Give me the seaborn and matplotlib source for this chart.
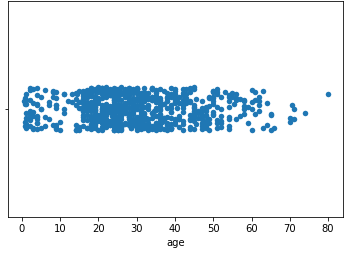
import numpy as np
import pandas as pd
import matplotlib
matplotlib.use("Agg")
import matplotlib.pyplot as plt
import seaborn as sns

# Titanic passenger ages (value -> count), read/estimated from the chart
age_values = [0.42, 0.67, 0.75, 0.83, 0.92, 1, 2, 3, 4, 5, 6, 7, 8, 9, 10, 11, 12, 13, 14, 14.5,
              15, 16, 17, 18, 19, 20, 20.5, 21, 22, 23, 23.5, 24, 24.5, 25, 26, 27, 28, 28.5,
              29, 30, 30.5, 31, 32, 32.5, 33, 34, 34.5, 35, 36, 36.5, 37, 38, 39, 40, 40.5,
              41, 42, 43, 44, 45, 45.5, 46, 47, 48, 49, 50, 51, 52, 53, 54, 55, 55.5, 56, 57,
              58, 59, 60, 61, 62, 63, 64, 65, 66, 70, 70.5, 71, 74, 80]
age_counts = [1, 1, 2, 2, 1, 7, 10, 6, 10, 4, 3, 3, 4, 8, 2, 4, 1, 2, 6, 1,
              5, 17, 13, 26, 25, 15, 1, 24, 27, 15, 1, 30, 1, 23, 18, 18, 25, 2,
              20, 25, 2, 17, 18, 2, 15, 15, 1, 18, 22, 1, 6, 11, 14, 13, 2,
              6, 13, 5, 9, 12, 2, 3, 9, 9, 6, 10, 7, 6, 1, 8, 2, 1, 4, 2,
              5, 2, 4, 3, 4, 2, 2, 3, 1, 2, 1, 2, 1, 1]

df = pd.DataFrame({"age": np.repeat(age_values, age_counts)})

DPI = 72
fig, ax = plt.subplots(figsize=(364 / DPI, 256 / DPI), dpi=DPI)
sns.stripplot(data=df, x="age", ax=ax, size=5.5)
fig.subplots_adjust(left=0.023, right=0.943, top=0.997, bottom=0.152)
fig.savefig("out.png", dpi=DPI)
